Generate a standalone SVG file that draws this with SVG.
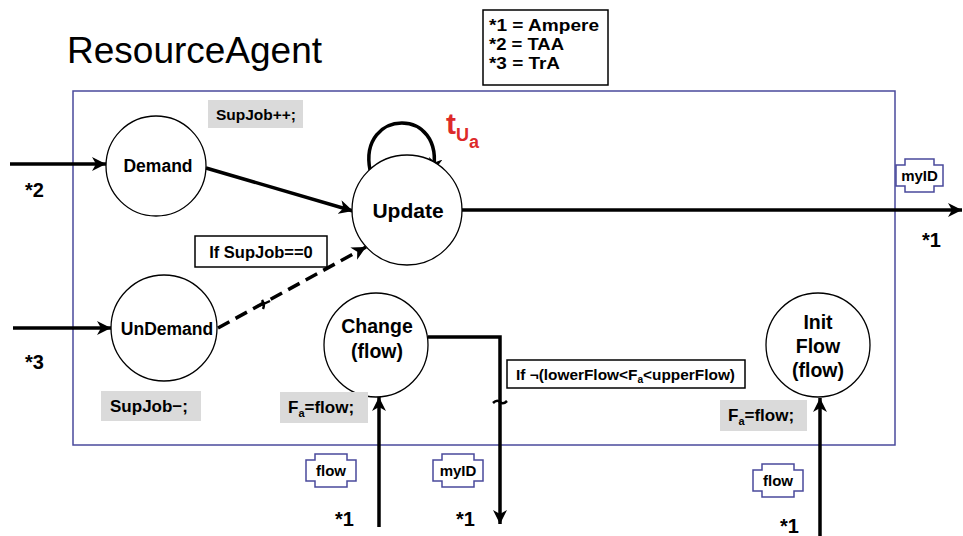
<svg xmlns="http://www.w3.org/2000/svg" width="963" height="536" viewBox="0 0 963 536">
<style>
.lbl{font-family:"Liberation Sans",Arial,sans-serif;font-weight:bold;fill:#000}
.node{fill:#fff;stroke:#000;stroke-width:1.3}
.grey{fill:#dadada}
.cond{fill:#fff;stroke:#000;stroke-width:1.5}
.port{fill:#fff;stroke:#4a4a9c;stroke-width:1.5}
.conn{fill:none;stroke:#000;stroke-width:3.5}
</style>
<defs>
<marker id="ah" markerUnits="userSpaceOnUse" markerWidth="16" markerHeight="14" refX="14" refY="7" orient="auto">
<path d="M0,0 L14,7 L0,14 L4,7 z" fill="#000"/>
</marker>
</defs>
<rect width="963" height="536" fill="#fff"/>
<text x="67" y="63" font-family="Liberation Sans,Arial,sans-serif" font-size="37" fill="#000">ResourceAgent</text>
<g id="legend">
<rect x="483" y="10" width="125" height="75" fill="#fff" stroke="#000" stroke-width="1.5"/>
<text class="lbl" x="489" y="31" font-size="17" textLength="110" lengthAdjust="spacingAndGlyphs">*1 = Ampere</text>
<text class="lbl" x="489" y="50" font-size="17" textLength="75" lengthAdjust="spacingAndGlyphs">*2 = TAA</text>
<text class="lbl" x="489" y="69" font-size="17" textLength="71" lengthAdjust="spacingAndGlyphs">*3 = TrA</text>
</g>
<rect id="frame" x="73" y="91" width="822" height="354" fill="none" stroke="#4a4a9c" stroke-width="1.5"/>
<g id="connectors">
<line class="conn" x1="10" y1="164" x2="106" y2="164" marker-end="url(#ah)"/>
<line class="conn" x1="13" y1="328" x2="111" y2="328" marker-end="url(#ah)"/>
<line class="conn" x1="206" y1="168" x2="353" y2="211" marker-end="url(#ah)"/>
<path class="conn" d="M370,170 C358,108 446,106 433,172" stroke-width="4" marker-end="url(#ah)"/>
<line class="conn" x1="462" y1="210" x2="962" y2="210" marker-end="url(#ah)"/>
<line class="conn" x1="218" y1="328" x2="366" y2="247" stroke-dasharray="13,7" stroke-width="4" marker-end="url(#ah)"/>
<path d="M262,300 q3,5 1,9 M258,306 q6,-2 12,-5" fill="none" stroke="#000" stroke-width="2.5"/>
<path class="conn" d="M428,337 H500 V524" marker-end="url(#ah)"/>
<path d="M493,403 q4,-4 7,-1 q3,3 7,-1" fill="none" stroke="#000" stroke-width="2.5"/>
<line class="conn" x1="379" y1="527" x2="379" y2="397" marker-end="url(#ah)"/>
<line class="conn" x1="820" y1="536" x2="820" y2="398" marker-end="url(#ah)"/>
</g>
<g id="demand">
<circle class="node" cx="156" cy="166" r="50"/>
<text class="lbl" x="158" y="172" font-size="17.5" text-anchor="middle">Demand</text>
</g>
<g id="update">
<circle class="node" cx="407" cy="210" r="55"/>
<text class="lbl" x="408" y="218" font-size="21" text-anchor="middle">Update</text>
</g>
<g id="undemand">
<circle class="node" cx="164" cy="328" r="53"/>
<text class="lbl" x="167" y="335" font-size="17.5" text-anchor="middle">UnDemand</text>
</g>
<g id="change">
<circle class="node" cx="376" cy="345" r="52"/>
<text class="lbl" x="377" y="333" font-size="19.5" text-anchor="middle">Change</text>
<text class="lbl" x="377" y="358" font-size="19.5" text-anchor="middle">(flow)</text>
</g>
<g id="initflow">
<circle class="node" cx="818" cy="345" r="52"/>
<text class="lbl" x="818" y="329" font-size="19.5" text-anchor="middle">Init</text>
<text class="lbl" x="818" y="353" font-size="19.5" text-anchor="middle">Flow</text>
<text class="lbl" x="818" y="377" font-size="19.5" text-anchor="middle">(flow)</text>
</g>
<g id="loop-label">
<text font-family="Liberation Sans,Arial,sans-serif" font-weight="bold" fill="#dd2a2a" font-size="30" x="446" y="134">t<tspan font-size="18" dy="7">U</tspan><tspan font-size="18" dy="7">a</tspan></text>
</g>
<g id="action-supjobinc">
<rect class="grey" x="208" y="100" width="95" height="28"/>
<text class="lbl" x="256" y="120" font-size="15.5" text-anchor="middle">SupJob++;</text>
</g>
<g id="action-supjobdec">
<rect class="grey" x="101" y="391" width="100" height="30"/>
<text class="lbl" x="149" y="412" font-size="17" text-anchor="middle">SupJob−;</text>
</g>
<g id="action-fa1">
<rect class="grey" x="280" y="392" width="88" height="31"/>
<text class="lbl" x="288" y="413" font-size="17">F<tspan font-size="11" dy="4">a</tspan><tspan dy="-4">=flow;</tspan></text>
</g>
<g id="action-fa2">
<rect class="grey" x="720" y="400" width="87" height="31"/>
<text class="lbl" x="728" y="421" font-size="17">F<tspan font-size="11" dy="4">a</tspan><tspan dy="-4">=flow;</tspan></text>
</g>
<g id="cond-supjob">
<rect class="cond" x="195" y="236" width="132" height="31"/>
<text class="lbl" x="261" y="258" font-size="16.5" text-anchor="middle">If SupJob==0</text>
</g>
<g id="cond-flow">
<rect class="cond" x="507" y="360" width="238" height="28"/>
<text class="lbl" x="516" y="380" font-size="15" textLength="219" lengthAdjust="spacingAndGlyphs">If ¬(lowerFlow&lt;F<tspan font-size="10" dy="3">a</tspan><tspan dy="-3">&lt;upperFlow)</tspan></text>
</g>
<g id="port-myid-right">
<path class="port" d="M905,159 H934 V165 H943 V186 H934 V192 H905 V186 H896 V165 H905 Z"/>
<text class="lbl" x="919.5" y="181" font-size="15" text-anchor="middle">myID</text>
</g>
<g id="port-flow-bottom">
<path class="port" d="M315,454 H347 V460 H356 V481 H347 V487 H315 V481 H306 V460 H315 Z"/>
<text class="lbl" x="331" y="476" font-size="15" text-anchor="middle">flow</text>
</g>
<g id="port-myid-bottom">
<path class="port" d="M442,454 H474 V460 H483 V481 H474 V487 H442 V481 H433 V460 H442 Z"/>
<text class="lbl" x="458" y="476" font-size="15" text-anchor="middle">myID</text>
</g>
<g id="port-flow-right">
<path class="port" d="M762,464 H794 V470 H803 V491 H794 V497 H762 V491 H753 V470 H762 Z"/>
<text class="lbl" x="778" y="486" font-size="15" text-anchor="middle">flow</text>
</g>
<g id="refs">
<text class="lbl" x="25" y="197" font-size="20">*2</text>
<text class="lbl" x="25" y="369" font-size="20">*3</text>
<text class="lbl" x="922" y="247" font-size="20">*1</text>
<text class="lbl" x="335" y="526" font-size="20">*1</text>
<text class="lbl" x="456" y="526" font-size="20">*1</text>
<text class="lbl" x="780" y="533" font-size="20">*1</text>
</g>
</svg>
